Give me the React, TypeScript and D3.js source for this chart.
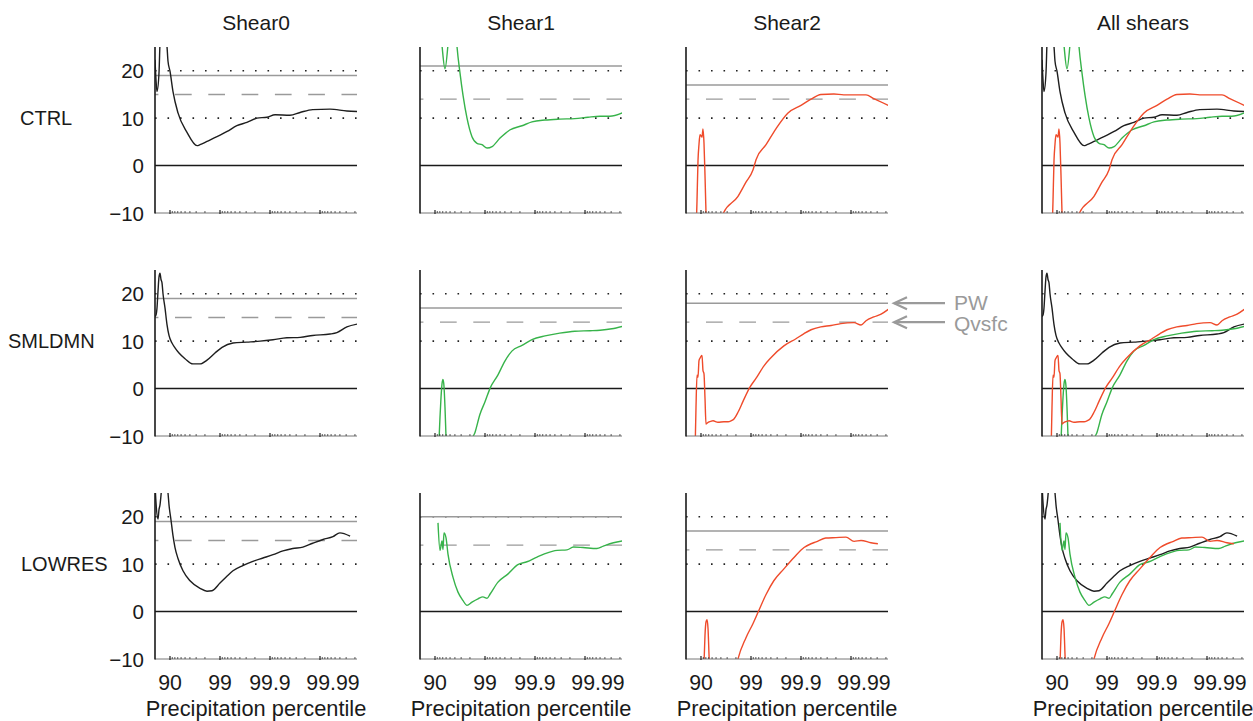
import React from "react";
import * as d3 from "d3";

type Pt = [number, number];

// ---- labels ----
const shearNames = ["Shear0", "Shear1", "Shear2", "All shears"];
const runNames = ["CTRL", "SMLDMN", "LOWRES"];
const yTicks = [20, 10, 0, -10];
const yTickLabels = ["20", "10", "0", "\u221210"];
const xTickPcts = [90, 99, 99.9, 99.99];
const xTickLabels = ["90", "99", "99.9", "99.99"];
// the last label is nudged right so it clears its neighbour
const xTickLabelNudge = [0, 0, 0, 13];
const gridValues = [20, 10];

// precipitable water (solid grey) and surface humidity (dashed grey) reference levels
const pwValues = [
  [19, 21, 17],
  [19, 17, 18],
  [19, 20, 17],
];
const qvsfcValues = [
  [15, 14, 14],
  [15, 14, 14],
  [15, 14, 13],
];

// ---- series: [precipitation percentile, value] ----
const ctrlShear0: Pt[] = [
  [80.05, 22.3], [80.95, 18.1], [81.8, 15.6], [83.4, 19.5], [84.15, 26], [85.55, 34],
  [86.82, 33], [87.98, 27], [88.52, 25.1], [89.04, 22], [90, 19.9], [91.29, 15.6],
  [93.08, 11.1], [95.43, 7.0], [97.12, 4.2], [97.49, 4.4], [98.18, 5.1], [98.85, 6.1],
  [99.28, 7.2], [99.54, 8.4], [99.71, 9.1], [99.818, 10.0], [99.885, 10.2], [99.921, 10.7],
  [99.96, 10.6], [99.975, 11.2], [99.986, 11.8], [99.9937, 11.9], [99.9971, 11.5], [99.9982, 11.4],
];
const ctrlShear1: Pt[] = [
  [92.06, 30], [92.76, 25.3], [93.69, 20.4], [94.5, 25.5], [94.99, 31], [96.02, 31],
  [96.37, 25.1], [96.84, 19.5], [97.25, 14.8], [97.71, 10.0], [98.18, 6.1], [98.555, 4.7],
  [98.85, 4.4], [99.09, 3.7], [99.28, 4.0], [99.5, 5.8], [99.68, 7.5], [99.818, 8.4],
  [99.885, 9.2], [99.937, 9.6], [99.968, 9.8], [99.984, 9.9], [99.9913, 10.2],
  [99.995, 10.4], [99.9968, 10.4], [99.9982, 11.1],
];
const ctrlShear2: Pt[] = [
  [86.82, -22], [87.98, -7.5], [88.52, 1.0], [89.04, 4.5], [89.53, 6.5], [90, 6.3],
  [90.45, 6.0], [90.88, 7.7], [91.29, 4.7], [91.68, -2], [92.06, -10], [92.41, -18],
  [94.99, -22], [96.37, -10.2], [98.18, -6.5], [98.74, -3.5], [99.09, -0.9], [99.21, 1.3],
  [99.5, 4.4], [99.68, 7.7], [99.818, 11.1], [99.9, 12.7], [99.937, 14.0], [99.96, 15.0],
  [99.978, 15.1], [99.986, 14.9], [99.9921, 14.9], [99.995, 14.9], [99.9965, 14.1], [99.9982, 12.7],
];

const smldmnShear0: Pt[] = [
  [80.05, 15.2], [80.95, 15.5], [81.8, 17.0], [82.62, 20.5], [83.4, 23.5], [84.15, 24.3],
  [84.86, 23.0], [85.55, 22.3], [86.2, 20], [87.41, 17], [88.52, 13.5], [89.53, 11.2],
  [90.88, 9.6], [92.06, 8.6], [93.39, 7.5], [94.99, 6.3], [96.53, 5.2], [97.49, 5.2],
  [98.18, 6.0], [98.74, 7.5], [99.09, 8.7], [99.45, 9.6], [99.71, 9.8], [99.842, 10.0],
  [99.913, 10.3], [99.954, 10.7], [99.975, 10.8], [99.986, 11.2], [99.9937, 11.5],
  [99.9954, 11.8], [99.9971, 13.0], [99.9982, 13.6],
];
const smldmnShear1: Pt[] = [
  [91.29, -18], [91.68, -11], [92.06, -6], [92.41, -2], [92.76, 1.0], [93.08, 1.9],
  [93.39, 0.5], [93.69, -4], [93.97, -10], [94.25, -16], [97.81, -20], [98.18, -11],
  [98.42, -9.2], [98.74, -5.4], [99.0, -2.8], [99.21, 0.1], [99.45, 2.9], [99.6, 5.8],
  [99.71, 7.9], [99.818, 9.1], [99.885, 10.3], [99.937, 11.1], [99.968, 11.7],
  [99.984, 12.1], [99.9921, 12.2], [99.995, 12.3], [99.9971, 12.6], [99.9982, 13.1],
];
const smldmnShear2: Pt[] = [
  [86.2, -22], [86.82, -14], [87.41, -4], [87.98, 2.8], [88.52, 2.4], [89.04, 5.9],
  [89.53, 6.4], [90, 6.8], [90.45, 7.0], [90.88, 3.8], [91.29, 3.1], [91.68, -2],
  [92.06, -7.5], [92.41, -7.3], [93.69, -6.9], [94.25, -6.8], [95.43, -7.1], [96.53, -7.0],
  [97.12, -7.0], [97.49, -6.8], [97.81, -6.4], [98.18, -5.0], [98.555, -2.7], [98.95, 0.3],
  [99.21, 2.2], [99.45, 4.8], [99.6, 6.5], [99.78, 9.0], [99.874, 10.5], [99.913, 11.6],
  [99.937, 12.4], [99.96, 13.0], [99.975, 13.3], [99.984, 13.7], [99.9913, 13.9],
  [99.9937, 13.4], [99.995, 14.3], [99.9965, 15.1], [99.9975, 15.7], [99.9982, 16.7],
];

const lowresShear0: Pt[] = [
  [80.05, 27], [80.95, 23], [82.62, 19.5], [83.4, 21.5], [84.15, 22.5], [84.86, 24.5],
  [85.55, 27], [86.82, 30], [87.98, 30], [88.52, 27], [89.04, 25], [89.53, 22.5],
  [90.45, 19.3], [91.29, 16.0], [92.06, 13.5], [93.08, 11.2], [94.5, 8.6], [96.02, 6.5],
  [97.49, 4.9], [98.18, 4.3], [98.555, 4.4], [99.0, 6.0], [99.28, 7.5], [99.45, 8.6],
  [99.65, 9.7], [99.78, 10.6], [99.862, 11.3], [99.913, 12.0], [99.945, 12.8],
  [99.965, 13.3], [99.978, 13.6], [99.986, 14.4], [99.9913, 15.2], [99.9945, 15.8],
  [99.996, 16.6], [99.9975, 15.9],
];
const lowresShear1: Pt[] = [
  [91.29, 18.7], [92.06, 12.9], [92.76, 14.9], [93.08, 13.1], [93.39, 16.6], [93.97, 15.6],
  [94.5, 12.1], [95.64, 7.2], [96.53, 4.1], [97.25, 2.3], [97.71, 1.3], [98.18, 2.0],
  [98.62, 2.7], [98.9, 3.1], [99.09, 2.8], [99.21, 3.7], [99.45, 6.2], [99.65, 7.9],
  [99.78, 9.9], [99.855, 10.5], [99.909, 11.5], [99.937, 12.2], [99.964, 12.9],
  [99.977, 13.0], [99.983, 13.6], [99.989, 13.5], [99.9942, 13.3], [99.9957, 13.8],
  [99.9973, 14.5], [99.9982, 14.9],
];
const lowresShear2: Pt[] = [
  [90.88, -20], [91.29, -11], [91.68, -5], [92.06, -2.2], [92.41, -1.7], [92.76, -3.5],
  [93.08, -9], [93.39, -15], [97.81, -14], [98.18, -10], [98.74, -5.5], [99.09, -2.5],
  [99.28, -0.1], [99.5, 3.6], [99.65, 6.5], [99.78, 9.0], [99.862, 11.4], [99.913, 13.5],
  [99.937, 14.3], [99.95, 14.7], [99.968, 15.5], [99.98, 15.6], [99.9874, 15.7],
  [99.9913, 14.8], [99.9937, 15.0], [99.996, 14.5], [99.9971, 14.3],
];

const runSeries: Pt[][][] = [
  [ctrlShear0, ctrlShear1, ctrlShear2],
  [smldmnShear0, smldmnShear1, smldmnShear2],
  [lowresShear0, lowresShear1, lowresShear2],
];
const shearColors = ["#1e1e1e", "#37b34a", "#ef4b2b"];

// ---- layout ----
const WIDTH = 1253;
const HEIGHT = 721;
const COL_X = [155, 420, 686, 1042];
const ROW_Y = [47, 270, 493];
const PW = 202;
const PH = 166;
const FONT = "'Liberation Sans', Arial, Helvetica, sans-serif";
const GREY = "#9a9a9a";
const INK = "#1a1a1a";

// x axis is logarithmic in the exceedance fraction (100 - percentile)
const xScale = d3.scaleLog().domain([19.95, 0.00182]).range([0, PW]);
const xOf = (p: number) => xScale(100 - p);
const yScale = d3.scaleLinear().domain([-10, 25]).range([PH, 0]);

const lineGen = d3
  .line<Pt>()
  .x((d) => xOf(d[0]))
  .y((d) => yScale(d[1]))
  .curve(d3.curveMonotoneX);

// minor ticks at 100 - k*10^-n
const minorTicks: number[] = [];
[10, 1, 0.1, 0.01].forEach((dec) => {
  for (let k = 2; k <= 9; k++) minorTicks.push(100 - (k * dec) / 10);
});

function Panel({
  row,
  col,
  series,
  colors,
  pw,
  qv,
}: {
  row: number;
  col: number;
  series: Pt[][];
  colors: string[];
  pw?: number;
  qv?: number;
}) {
  const clipId = `clip-${row}-${col}`;
  return (
    <g transform={`translate(${COL_X[col]},${ROW_Y[row]})`}>
      <defs>
        <clipPath id={clipId}>
          <rect x={0} y={0} width={PW} height={PH} />
        </clipPath>
      </defs>
      {gridValues.map((v) => (
        <line
          key={v}
          x1={0}
          x2={PW}
          y1={yScale(v)}
          y2={yScale(v)}
          stroke="#222"
          strokeWidth={1.6}
          strokeDasharray="1.6 10.9"
        />
      ))}
      {pw !== undefined && (
        <line x1={0} x2={PW} y1={yScale(pw)} y2={yScale(pw)} stroke={GREY} strokeWidth={1.4} />
      )}
      {qv !== undefined && (
        <line
          x1={0}
          x2={PW}
          y1={yScale(qv)}
          y2={yScale(qv)}
          stroke={GREY}
          strokeWidth={1.4}
          strokeDasharray="16.7 16.6"
          strokeDashoffset={13.3}
        />
      )}
      <line x1={0} x2={PW} y1={yScale(0)} y2={yScale(0)} stroke={INK} strokeWidth={1.5} />
      <g clipPath={`url(#${clipId})`}>
        {series.map((s, i) => (
          <path
            key={i}
            d={lineGen(s) || ""}
            fill="none"
            stroke={colors[i]}
            strokeWidth={1.4}
            strokeLinejoin="round"
          />
        ))}
      </g>
      {/* bottom axis */}
      <line x1={0} x2={PW} y1={PH} y2={PH} stroke="#777" strokeWidth={1} />
      {minorTicks.map((p, i) => (
        <line key={i} x1={xOf(p)} x2={xOf(p)} y1={PH} y2={PH - 2} stroke="#333" strokeWidth={0.8} />
      ))}
      {xTickPcts.map((p) => (
        <line key={p} x1={xOf(p)} x2={xOf(p)} y1={PH + 1} y2={PH - 3} stroke="#222" strokeWidth={1.2} />
      ))}
      {/* left axis */}
      <line x1={0} x2={0} y1={0} y2={PH + 0.5} stroke={INK} strokeWidth={1.6} />
      {col === 0 &&
        yTicks.map((v, i) => (
          <text
            key={v}
            x={-11}
            y={yScale(v)}
            textAnchor="end"
            dominantBaseline="central"
            fontFamily={FONT}
            fontSize={20.5}
            fill={INK}
          >
            {yTickLabels[i]}
          </text>
        ))}
      {row === 2 && (
        <g>
          {xTickPcts.map((p, i) => (
            <text
              key={p}
              x={xOf(p) + xTickLabelNudge[i]}
              y={PH + 31}
              textAnchor="middle"
              fontFamily={FONT}
              fontSize={21.3}
              fill={INK}
            >
              {xTickLabels[i]}
            </text>
          ))}
          <text
            x={PW / 2}
            y={PH + 57}
            textAnchor="middle"
            fontFamily={FONT}
            fontSize={21.8}
            fill={INK}
          >
            Precipitation percentile
          </text>
        </g>
      )}
      {row === 0 && (
        <text
          x={PW / 2}
          y={-17}
          textAnchor="middle"
          fontFamily={FONT}
          fontSize={21}
          fill={INK}
        >
          {shearNames[col]}
        </text>
      )}
    </g>
  );
}

const ROW_LABEL_X = [20, 8, 21];

export default function App() {
  const annRow = 1;
  const annCol = 2;
  const ay0 = ROW_Y[annRow];
  const arrowX1 = COL_X[annCol] + PW + 6;
  const arrowX2 = COL_X[annCol] + PW + 57;
  const annY = [yScale(pwValues[annRow][annCol]), yScale(qvsfcValues[annRow][annCol])];
  const annText = ["PW", "Qvsfc"];

  return (
    <svg width={WIDTH} height={HEIGHT} style={{ display: "block", position: "absolute", left: 0, top: 0, background: "#fff" }}>
      <rect x={0} y={0} width={WIDTH} height={HEIGHT} fill="#fff" />
      {runNames.map((run, r) => (
        <g key={run}>
          <text
            x={ROW_LABEL_X[r]}
            y={ROW_Y[r] + yScale(10)}
            dominantBaseline="central"
            fontFamily={FONT}
            fontSize={20}
            fill={INK}
          >
            {run}
          </text>
          {[0, 1, 2].map((c) => (
            <Panel
              key={c}
              row={r}
              col={c}
              series={[runSeries[r][c]]}
              colors={[shearColors[c]]}
              pw={pwValues[r][c]}
              qv={qvsfcValues[r][c]}
            />
          ))}
          <Panel row={r} col={3} series={runSeries[r]} colors={shearColors} />
        </g>
      ))}
      {annY.map((yy, i) => (
        <g key={i} transform={`translate(0,${ay0 + yy})`}>
          <line x1={arrowX1} x2={arrowX2} y1={0} y2={0} stroke={GREY} strokeWidth={2.2} />
          <path
            d={`M${arrowX1 + 13},-6 L${arrowX1},0 L${arrowX1 + 13},6`}
            fill="none"
            stroke={GREY}
            strokeWidth={2.2}
          />
          <text
            x={arrowX2 + 9}
            y={i === 0 ? -1 : 1}
            dominantBaseline="central"
            fontFamily={FONT}
            fontSize={21}
            fill={GREY}
          >
            {annText[i]}
          </text>
        </g>
      ))}
    </svg>
  );
}
